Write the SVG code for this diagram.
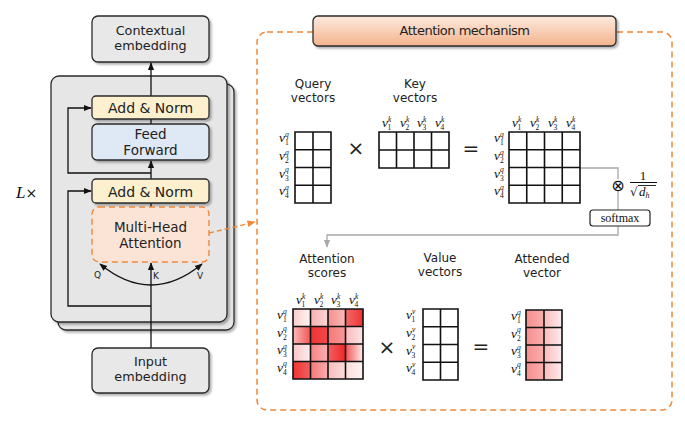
<svg xmlns="http://www.w3.org/2000/svg" width="685" height="423" viewBox="0 0 685 423">
<style>
.t{font-family:"DejaVu Sans","Noto Sans",sans-serif;font-size:12px;fill:#222;text-anchor:middle}
.b{font-size:13.5px}
.e{font-size:12.8px}
.box{stroke:#2a2a2a;stroke-width:1.3}
.mv{font-family:"Liberation Serif","DejaVu Serif",serif;font-style:italic;font-size:13.5px;fill:#111}
.ms{font-size:7.5px;font-style:italic}
.mn{font-size:7.5px;font-style:normal}
.grid{fill:none;stroke:#111;stroke-width:1.6}
.ln{fill:none;stroke:#111;stroke-width:1.3}
.gl{fill:none;stroke:#a8a8a8;stroke-width:1.3}
.op{font-family:"DejaVu Sans",sans-serif;font-size:20px;fill:#222;text-anchor:middle}
</style>
<defs>
<filter id="sh" x="-10%" y="-10%" width="130%" height="130%">
<feDropShadow dx="2" dy="2" stdDeviation="1.3" flood-color="#000" flood-opacity="0.3"/>
</filter>
<marker id="ar" viewBox="0 0 10 10" refX="9" refY="5" markerWidth="6" markerHeight="6" orient="auto-start-reverse"><path d="M0,1 L10,5 L0,9 z" fill="#111"/></marker>
<marker id="arg" viewBox="0 0 10 10" refX="9" refY="5" markerWidth="6" markerHeight="6" orient="auto"><path d="M0,1 L10,5 L0,9 z" fill="#a8a8a8"/></marker>
<marker id="aro" viewBox="0 0 10 10" refX="9" refY="5" markerWidth="6" markerHeight="6" orient="auto"><path d="M0,1 L10,5 L0,9 z" fill="#f0883a"/></marker>
<linearGradient id="tg" x1="0" y1="0" x2="0" y2="1"><stop offset="0" stop-color="#fdeadf"/><stop offset="1" stop-color="#f3b38c"/></linearGradient>
<linearGradient id="g11"><stop offset="0" stop-color="#ee1c1c" stop-opacity="0.22"/><stop offset="1" stop-color="#ee1c1c" stop-opacity="0.05"/></linearGradient>
<linearGradient id="g12"><stop offset="0" stop-color="#ee1c1c" stop-opacity="0.35"/><stop offset="1" stop-color="#ee1c1c" stop-opacity="0.18"/></linearGradient>
<linearGradient id="g13"><stop offset="0" stop-color="#ee1c1c" stop-opacity="0.5"/><stop offset="1" stop-color="#ee1c1c" stop-opacity="0.3"/></linearGradient>
<linearGradient id="g14"><stop offset="0" stop-color="#ee1c1c" stop-opacity="0.65"/><stop offset="1" stop-color="#ee1c1c" stop-opacity="0.9"/></linearGradient>
<linearGradient id="g21"><stop offset="0" stop-color="#ee1c1c" stop-opacity="0.3"/><stop offset="1" stop-color="#ee1c1c" stop-opacity="0.75"/></linearGradient>
<linearGradient id="g22"><stop offset="0" stop-color="#ee1c1c" stop-opacity="0.9"/><stop offset="1" stop-color="#ee1c1c" stop-opacity="0.8"/></linearGradient>
<linearGradient id="g23"><stop offset="0" stop-color="#ee1c1c" stop-opacity="0.6"/><stop offset="1" stop-color="#ee1c1c" stop-opacity="0.45"/></linearGradient>
<linearGradient id="g24"><stop offset="0" stop-color="#ee1c1c" stop-opacity="0.3"/><stop offset="1" stop-color="#ee1c1c" stop-opacity="0.12"/></linearGradient>
<linearGradient id="g31"><stop offset="0" stop-color="#ee1c1c" stop-opacity="0.25"/><stop offset="1" stop-color="#ee1c1c" stop-opacity="0.08"/></linearGradient>
<linearGradient id="g32"><stop offset="0" stop-color="#ee1c1c" stop-opacity="0.55"/><stop offset="1" stop-color="#ee1c1c" stop-opacity="0.35"/></linearGradient>
<linearGradient id="g33"><stop offset="0" stop-color="#ee1c1c" stop-opacity="0.7"/><stop offset="1" stop-color="#ee1c1c" stop-opacity="0.95"/></linearGradient>
<linearGradient id="g34"><stop offset="0" stop-color="#ee1c1c" stop-opacity="0.75"/><stop offset="1" stop-color="#ee1c1c" stop-opacity="0.08"/></linearGradient>
<linearGradient id="g41"><stop offset="0" stop-color="#ee1c1c" stop-opacity="0.9"/><stop offset="1" stop-color="#ee1c1c" stop-opacity="0.7"/></linearGradient>
<linearGradient id="g42"><stop offset="0" stop-color="#ee1c1c" stop-opacity="0.6"/><stop offset="1" stop-color="#ee1c1c" stop-opacity="0.35"/></linearGradient>
<linearGradient id="g43"><stop offset="0" stop-color="#ee1c1c" stop-opacity="0.3"/><stop offset="1" stop-color="#ee1c1c" stop-opacity="0.15"/></linearGradient>
<linearGradient id="g44"><stop offset="0" stop-color="#ee1c1c" stop-opacity="0.15"/><stop offset="1" stop-color="#ee1c1c" stop-opacity="0.05"/></linearGradient>
<linearGradient id="a1"><stop offset="0" stop-color="#ee1c1c" stop-opacity="0.5"/><stop offset="1" stop-color="#ee1c1c" stop-opacity="0.35"/></linearGradient>
<linearGradient id="a2"><stop offset="0" stop-color="#ee1c1c" stop-opacity="0.3"/><stop offset="1" stop-color="#ee1c1c" stop-opacity="0.08"/></linearGradient>
</defs>
<rect width="685" height="423" fill="#fff"/>

<!-- encoder stack -->
<g id="stack">
<rect x="58" y="84" width="176" height="246" rx="8" fill="#e6e6e6" class="box" filter="url(#sh)"/>
<rect x="51" y="76" width="176" height="246" rx="8" fill="#e6e6e6" class="box" filter="url(#sh)"/>
</g>
<g id="lx"><text x="16" y="198" style="font-family:'Liberation Serif',serif;font-style:italic;font-size:17px;fill:#111">L<tspan style="font-style:normal;font-family:'DejaVu Sans',sans-serif;font-size:14px">×</tspan></text></g>

<g id="connectors">
<path class="ln" d="M151,348 V263" marker-end="url(#ar)"/>
<path class="ln" d="M100,264 Q151,306 202,264" marker-start="url(#ar)" marker-end="url(#ar)"/>
<path class="ln" d="M151,306 H68 V191 H91" marker-end="url(#ar)"/>
<path class="ln" d="M151,207 V203"/>
<path class="ln" d="M151,179 V161" marker-end="url(#ar)"/>
<path class="ln" d="M151,173 H68 V108 H91" marker-end="url(#ar)"/>
<path class="ln" d="M151,124 V119"/>
<path class="ln" d="M151,96 V63" marker-end="url(#ar)"/>
<path d="M209,233 L255,222" fill="none" stroke="#f0883a" stroke-width="1.4" stroke-dasharray="5 3" marker-end="url(#aro)"/>
<path class="gl" d="M580,168 H618 V179"/>
<path class="gl" d="M618,191 V210"/>
<path class="gl" d="M618,226 V235 H327 V247" marker-end="url(#arg)"/>
</g>

<g id="contextual">
<rect x="92" y="16" width="117" height="46" rx="6" fill="#e8e8e8" class="box" filter="url(#sh)"/>
<text class="t e" x="150.5" y="35">Contextual<tspan x="150.5" dy="15">embedding</tspan></text>
</g>
<g id="addnorm1">
<rect x="92" y="96" width="117" height="23" rx="4" fill="#fcf0cf" class="box" filter="url(#sh)"/>
<text class="t" x="150.5" y="113" style="font-size:14px">Add &amp; Norm</text>
</g>
<g id="feedforward">
<rect x="92" y="124" width="117" height="36" rx="5" fill="#dfe9f5" class="box" filter="url(#sh)"/>
<text class="t b" x="150.5" y="139">Feed<tspan x="150.5" dy="16">Forward</tspan></text>
</g>
<g id="addnorm2">
<rect x="92" y="179" width="117" height="24" rx="4" fill="#fcf0cf" class="box" filter="url(#sh)"/>
<text class="t" x="150.5" y="197" style="font-size:14px">Add &amp; Norm</text>
</g>
<g id="mha">
<rect x="92" y="207" width="117" height="55" rx="7" fill="#fbe4d5" stroke="#f0883a" stroke-width="1.4" stroke-dasharray="6 4"/>
<text class="t b" x="150.5" y="232">Multi-Head<tspan x="150.5" dy="16">Attention</tspan></text>
</g>
<g id="qkv" style="font-family:'DejaVu Sans',sans-serif;font-size:9px;fill:#222">
<text x="94" y="278">Q</text>
<text x="153" y="279">K</text>
<text x="197" y="279">V</text>
</g>
<g id="input">
<rect x="92" y="348" width="117" height="45" rx="6" fill="#e8e8e8" class="box" filter="url(#sh)"/>
<text class="t e" x="150.5" y="366">Input<tspan x="150.5" dy="15">embedding</tspan></text>
</g>

<!-- attention mechanism panel -->
<g id="panel">
<rect x="257" y="32" width="415" height="378" rx="10" fill="none" stroke="#f0883a" stroke-width="1.5" stroke-dasharray="6 4"/>
<rect x="313" y="16" width="303" height="30" rx="5" fill="url(#tg)" class="box" filter="url(#sh)"/>
<text class="t" x="464.5" y="35" style="font-size:13px;letter-spacing:-0.5px">Attention mechanism</text>
</g>

<g id="query">
<text class="t" x="313" y="88">Query<tspan x="313" dy="14.1">vectors</tspan></text>
<path class="grid" d="M295,132 h36 v71 h-36 z M313,132 V203 M295,149.75 H331 M295,167.5 H331 M295,185.25 H331"/>
<text class="mv" x="279" y="142">v<tspan class="ms" dy="-5.5">q</tspan><tspan class="mn" dx="-3.8" dy="8.5">1</tspan></text>
<text class="mv" x="279" y="160">v<tspan class="ms" dy="-5.5">q</tspan><tspan class="mn" dx="-3.8" dy="8.5">2</tspan></text>
<text class="mv" x="279" y="177.5">v<tspan class="ms" dy="-5.5">q</tspan><tspan class="mn" dx="-3.8" dy="8.5">3</tspan></text>
<text class="mv" x="279" y="195">v<tspan class="ms" dy="-5.5">q</tspan><tspan class="mn" dx="-3.8" dy="8.5">4</tspan></text>
</g>
<text class="op" x="356" y="155">×</text>
<g id="key">
<text class="t" x="415" y="88">Key<tspan x="415" dy="14.1">vectors</tspan></text>
<path class="grid" d="M379,132 h70 v36 h-70 z M396.5,132 V168 M414,132 V168 M431.5,132 V168 M379,150 H449"/>
<text class="mv" x="382" y="127">v<tspan class="ms" dy="-5.5">k</tspan><tspan class="mn" dx="-3.8" dy="8.5">1</tspan></text>
<text class="mv" x="400" y="127">v<tspan class="ms" dy="-5.5">k</tspan><tspan class="mn" dx="-3.8" dy="8.5">2</tspan></text>
<text class="mv" x="417" y="127">v<tspan class="ms" dy="-5.5">k</tspan><tspan class="mn" dx="-3.8" dy="8.5">3</tspan></text>
<text class="mv" x="435" y="127">v<tspan class="ms" dy="-5.5">k</tspan><tspan class="mn" dx="-3.8" dy="8.5">4</tspan></text>
</g>
<text class="op" x="471" y="155">=</text>
<g id="qk">
<path class="grid" d="M509,132 h71 v71 h-71 z M526.75,132 V203 M544.5,132 V203 M562.25,132 V203 M509,149.75 H580 M509,167.5 H580 M509,185.25 H580"/>
<text class="mv" x="512" y="127">v<tspan class="ms" dy="-5.5">k</tspan><tspan class="mn" dx="-3.8" dy="8.5">1</tspan></text>
<text class="mv" x="530" y="127">v<tspan class="ms" dy="-5.5">k</tspan><tspan class="mn" dx="-3.8" dy="8.5">2</tspan></text>
<text class="mv" x="548" y="127">v<tspan class="ms" dy="-5.5">k</tspan><tspan class="mn" dx="-3.8" dy="8.5">3</tspan></text>
<text class="mv" x="566" y="127">v<tspan class="ms" dy="-5.5">k</tspan><tspan class="mn" dx="-3.8" dy="8.5">4</tspan></text>
<text class="mv" x="494" y="142">v<tspan class="ms" dy="-5.5">q</tspan><tspan class="mn" dx="-3.8" dy="8.5">1</tspan></text>
<text class="mv" x="494" y="160">v<tspan class="ms" dy="-5.5">q</tspan><tspan class="mn" dx="-3.8" dy="8.5">2</tspan></text>
<text class="mv" x="494" y="177.5">v<tspan class="ms" dy="-5.5">q</tspan><tspan class="mn" dx="-3.8" dy="8.5">3</tspan></text>
<text class="mv" x="494" y="195">v<tspan class="ms" dy="-5.5">q</tspan><tspan class="mn" dx="-3.8" dy="8.5">4</tspan></text>
</g>
<g id="scale">
<text x="618" y="191" style="font-family:'DejaVu Sans',sans-serif;font-size:16px;fill:#111;text-anchor:middle">⊗</text>
<text x="643" y="180" style="font-family:'Liberation Serif',serif;font-size:13px;fill:#111;text-anchor:middle">1</text>
<line x1="630" y1="182.5" x2="657" y2="182.5" stroke="#111" stroke-width="1"/>
<text x="630" y="196" style="font-family:'DejaVu Serif',serif;font-size:12px;fill:#111">√</text>
<line x1="638" y1="185.5" x2="656" y2="185.5" stroke="#111" stroke-width="0.9"/>
<text class="mv" x="639" y="196" style="font-size:13px">d<tspan class="ms" style="font-size:8px" dy="2">h</tspan></text>
</g>
<g id="softmax">
<rect x="590" y="210" width="60" height="16" rx="3" fill="#fff" stroke="#222" stroke-width="1.2"/>
<text x="620" y="222" style="font-family:'Liberation Serif',serif;font-size:12px;fill:#111;text-anchor:middle">softmax</text>
</g>

<g id="scores">
<text class="t" x="327" y="263">Attention<tspan x="327" dy="14.1">scores</tspan></text>
<rect x="293" y="309" width="17.5" height="17.5" fill="url(#g11)"/>
<rect x="310.5" y="309" width="17.5" height="17.5" fill="url(#g12)"/>
<rect x="328" y="309" width="17.5" height="17.5" fill="url(#g13)"/>
<rect x="345.5" y="309" width="17.5" height="17.5" fill="url(#g14)"/>
<rect x="293" y="326.5" width="17.5" height="17.5" fill="url(#g21)"/>
<rect x="310.5" y="326.5" width="17.5" height="17.5" fill="url(#g22)"/>
<rect x="328" y="326.5" width="17.5" height="17.5" fill="url(#g23)"/>
<rect x="345.5" y="326.5" width="17.5" height="17.5" fill="url(#g24)"/>
<rect x="293" y="344" width="17.5" height="17.5" fill="url(#g31)"/>
<rect x="310.5" y="344" width="17.5" height="17.5" fill="url(#g32)"/>
<rect x="328" y="344" width="17.5" height="17.5" fill="url(#g33)"/>
<rect x="345.5" y="344" width="17.5" height="17.5" fill="url(#g34)"/>
<rect x="293" y="361.5" width="17.5" height="17.5" fill="url(#g41)"/>
<rect x="310.5" y="361.5" width="17.5" height="17.5" fill="url(#g42)"/>
<rect x="328" y="361.5" width="17.5" height="17.5" fill="url(#g43)"/>
<rect x="345.5" y="361.5" width="17.5" height="17.5" fill="url(#g44)"/>
<path class="grid" d="M293,309 h70 v70 h-70 z M310.5,309 V379 M328,309 V379 M345.5,309 V379 M293,326.5 H363 M293,344 H363 M293,361.5 H363"/>
<text class="mv" x="296" y="304">v<tspan class="ms" dy="-5.5">k</tspan><tspan class="mn" dx="-3.8" dy="8.5">1</tspan></text>
<text class="mv" x="314" y="304">v<tspan class="ms" dy="-5.5">k</tspan><tspan class="mn" dx="-3.8" dy="8.5">2</tspan></text>
<text class="mv" x="331" y="304">v<tspan class="ms" dy="-5.5">k</tspan><tspan class="mn" dx="-3.8" dy="8.5">3</tspan></text>
<text class="mv" x="349" y="304">v<tspan class="ms" dy="-5.5">k</tspan><tspan class="mn" dx="-3.8" dy="8.5">4</tspan></text>
<text class="mv" x="277" y="319">v<tspan class="ms" dy="-5.5">q</tspan><tspan class="mn" dx="-3.8" dy="8.5">1</tspan></text>
<text class="mv" x="277" y="336.5">v<tspan class="ms" dy="-5.5">q</tspan><tspan class="mn" dx="-3.8" dy="8.5">2</tspan></text>
<text class="mv" x="277" y="354">v<tspan class="ms" dy="-5.5">q</tspan><tspan class="mn" dx="-3.8" dy="8.5">3</tspan></text>
<text class="mv" x="277" y="371.5">v<tspan class="ms" dy="-5.5">q</tspan><tspan class="mn" dx="-3.8" dy="8.5">4</tspan></text>
</g>
<text class="op" x="387" y="354">×</text>
<g id="value">
<text class="t" x="440" y="262">Value<tspan x="440" dy="14.1">vectors</tspan></text>
<path class="grid" d="M423,309 h35 v71 h-35 z M440.5,309 V380 M423,326.75 H458 M423,344.5 H458 M423,362.25 H458"/>
<text class="mv" x="406" y="319">v<tspan class="ms" dy="-5.5">v</tspan><tspan class="mn" dx="-3.8" dy="8.5">1</tspan></text>
<text class="mv" x="406" y="337">v<tspan class="ms" dy="-5.5">v</tspan><tspan class="mn" dx="-3.8" dy="8.5">2</tspan></text>
<text class="mv" x="406" y="354.5">v<tspan class="ms" dy="-5.5">v</tspan><tspan class="mn" dx="-3.8" dy="8.5">3</tspan></text>
<text class="mv" x="406" y="372">v<tspan class="ms" dy="-5.5">v</tspan><tspan class="mn" dx="-3.8" dy="8.5">4</tspan></text>
</g>
<text class="op" x="481" y="353">=</text>
<g id="attended">
<text class="t" x="542" y="263">Attended<tspan x="542" dy="14.1">vector</tspan></text>
<rect x="526" y="310" width="18" height="70" fill="url(#a1)"/>
<rect x="544" y="310" width="18" height="70" fill="url(#a2)"/>
<path class="grid" d="M526,310 h36 v70 h-36 z M544,310 V380 M526,327.5 H562 M526,345 H562 M526,362.5 H562"/>
<text class="mv" x="511" y="320">v<tspan class="ms" dy="-5.5">q</tspan><tspan class="mn" dx="-3.8" dy="8.5">1</tspan></text>
<text class="mv" x="511" y="337.5">v<tspan class="ms" dy="-5.5">q</tspan><tspan class="mn" dx="-3.8" dy="8.5">2</tspan></text>
<text class="mv" x="511" y="355">v<tspan class="ms" dy="-5.5">q</tspan><tspan class="mn" dx="-3.8" dy="8.5">3</tspan></text>
<text class="mv" x="511" y="372.5">v<tspan class="ms" dy="-5.5">q</tspan><tspan class="mn" dx="-3.8" dy="8.5">4</tspan></text>
</g>
</svg>
